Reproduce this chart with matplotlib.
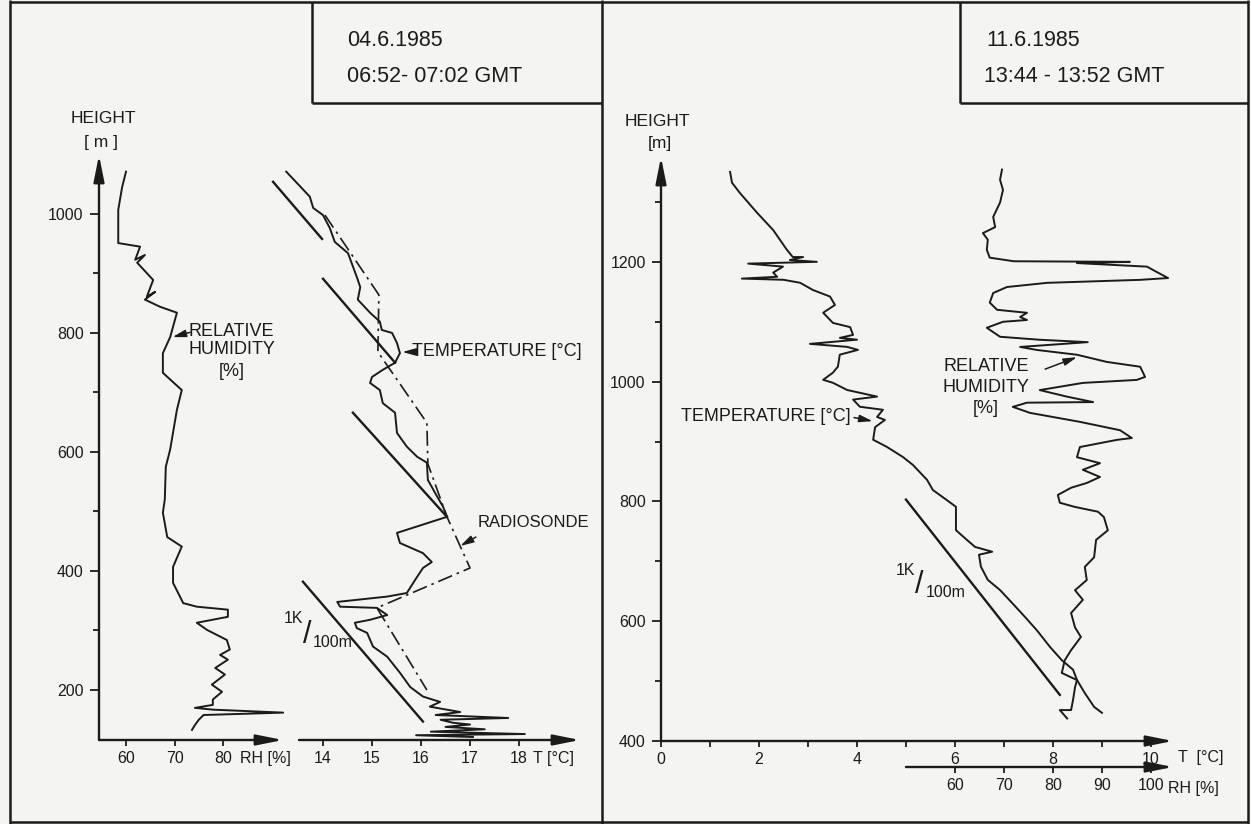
import matplotlib.pyplot as plt

plt.rcParams['font.family'] = ['Liberation Sans Narrow', 'Liberation Sans', 'DejaVu Sans']

INK = '#1b1b1b'
PAPER = '#f4f4f2'
W, H = 1251, 824

# ---------------- 04.6.1985, 06:52-07:02 GMT ----------------
# relative humidity profile (height m, RH %)
left_rh_height = [1071, 1045, 1007, 951, 945, 923, 931, 918, 889, 861, 869, 856, 844, 834,
                  793, 766, 733, 704, 671, 604, 575, 520, 498, 457, 441, 407, 380, 346, 340,
                  335, 323, 313, 301, 284, 268, 259, 251, 237, 226, 209, 197, 184, 175, 170,
                  167, 162, 158, 150, 141, 133]
left_rh = [60.0, 59.2, 58.4, 58.4, 62.9, 61.9, 63.9, 62.3, 65.6, 64.3, 66.0, 63.9, 67.0, 70.5,
           69.1, 67.6, 67.6, 71.5, 70.5, 69.1, 68.2, 68.0, 67.6, 68.5, 71.5, 69.7, 69.7, 71.8, 74.6,
           81.0, 81.0, 74.6, 76.7, 80.8, 81.4, 79.4, 81.0, 78.4, 80.4, 77.7, 79.8, 77.9, 77.9, 74.2,
           77.9, 92.4, 76.0, 75.0, 74.2, 73.6]

# temperature profile (height m, T degC)
left_t_height = [1071, 1029, 1010, 998, 976, 953, 934, 894, 877, 856, 834, 819, 805, 800, 783,
                 766, 750, 738, 726, 716, 704, 682, 666, 632, 609, 592, 582, 553, 525, 508, 491,
                 464, 447, 430, 415, 405, 385, 363, 357, 348, 340, 338, 326, 318, 313, 304, 296,
                 273, 256, 229, 205, 189, 180, 172, 163, 158, 153, 150, 145, 142, 138, 134, 130,
                 126, 124, 121]
left_t = [13.25, 13.73, 13.80, 14.0, 14.14, 14.24, 14.51, 14.69, 14.76, 14.71, 14.96, 15.16, 15.2,
          15.41, 15.51, 15.57, 15.47, 15.22, 15.0, 14.96, 15.16, 15.22, 15.47, 15.51, 15.71, 15.92,
          16.12, 16.14, 16.33, 16.45, 16.53, 15.51, 15.57, 16.04, 16.22, 16.04, 15.88, 15.71, 15.31,
          14.29, 14.35, 15.1, 15.31, 14.96, 14.65, 14.69, 14.9, 15.02, 15.31, 15.57, 15.78, 16.04,
          16.39, 16.18, 16.8, 16.3, 17.78, 16.4, 16.65, 17.0, 16.5, 17.3, 16.2, 18.12, 15.9, 17.06]

# radiosonde ascent
sonde_height = [998, 864, 768, 649, 580, 491, 405, 338, 200]
sonde_t = [14.04, 15.14, 15.12, 16.12, 16.14, 16.53, 17.0, 15.1, 16.12]

# 1 K / 100 m guide lines: (height start, T start, height end, T end)
left_guides = [(1054, 12.98, 958, 13.98),
               (891, 14.0, 750, 15.47),
               (666, 14.61, 491, 16.53),
               (382, 13.59, 147, 16.04)]

# ---------------- 11.6.1985, 13:44-13:52 GMT ----------------
right_t_height = [1350, 1332, 1315, 1282, 1253, 1220, 1208, 1208, 1203, 1200, 1197, 1192, 1182,
                  1175, 1172, 1170, 1165, 1153, 1142, 1128, 1115, 1098, 1091, 1078, 1073, 1070,
                  1063, 1058, 1053, 1045, 1025, 1015, 1003, 998, 986, 975, 970, 958, 953, 941,
                  936, 924, 903, 891, 874, 861, 836, 819, 803, 791, 752, 736, 724, 716, 711, 691,
                  669, 652, 631, 607, 585, 557, 535, 519, 502, 480, 457, 447]
right_t = [1.41, 1.45, 1.61, 1.96, 2.29, 2.57, 2.69, 2.9, 2.63, 3.18, 1.78, 2.49, 2.29,
           2.37, 1.65, 2.5, 2.84, 3.1, 3.45, 3.55, 3.31, 3.51, 3.86, 3.92, 3.65, 4.0,
           3.04, 3.8, 4.02, 3.65, 3.61, 3.51, 3.31, 3.51, 3.8, 4.41, 3.92, 4.06, 4.53, 4.41,
           4.57, 4.37, 4.33, 4.61, 4.94, 5.14, 5.43, 5.55, 5.82, 6.02, 6.02, 6.24, 6.41, 6.76, 6.49, 6.53,
           6.67, 6.92, 7.16, 7.43, 7.67, 7.94, 8.18, 8.41, 8.49, 8.65, 8.84, 9.0]

right_rh_height = [1354, 1337, 1320, 1299, 1275, 1258, 1248, 1237, 1220, 1207, 1201, 1200, 1198,
                   1192, 1183, 1173, 1170, 1165, 1158, 1148, 1132, 1120, 1115, 1108, 1103, 1100,
                   1090, 1075, 1070, 1066, 1058, 1053, 1045, 1033, 1025, 1008, 1003, 998, 986, 975,
                   966, 965, 958, 948, 933, 919, 906, 903, 891, 874, 864, 853, 841, 831, 823, 811,
                   798, 791, 783, 774, 752, 736, 707, 691, 669, 652, 636, 614, 590, 574, 552, 535,
                   514, 502, 490, 469, 452, 452, 438]
right_rh = [69.6, 69.2, 69.8, 69.2, 67.8, 68.2, 65.7, 66.7, 66.5, 67.1, 72.0, 95.7, 84.9,
            99.2, 101.2, 103.5, 97.8, 78.8, 70.6, 67.8, 67.1, 68.6, 74.7, 73.3, 74.7, 69.8,
            66.5, 69.2, 77.3, 87.1, 73.3, 76.7, 84.9, 91.0, 97.8, 98.8, 97.1, 86.1, 77.3, 82.9,
            88.2, 74.7, 71.8, 75.3, 85.5, 93.7, 96.1, 93.1, 85.5, 84.9, 89.6, 86.1, 89.6, 86.9, 83.7, 81.0,
            81.4, 84.5, 89.2, 90.4, 91.2, 88.8, 88.4, 86.5, 86.9, 84.5, 86.1, 83.7, 84.5, 85.7, 83.7, 82.4,
            81.8, 84.9, 84.5, 84.1, 83.7, 81.4, 82.9]

right_guides = [(803, 5.0, 477, 8.14)]

TICK_FS = 11.5
LABEL_FS = 13

fig = plt.figure(figsize=(W / 100, H / 100), dpi=100, facecolor=PAPER)

# frame and the two date boxes
bg = fig.add_axes([0, 0, 1, 1])
bg.set_xlim(0, W)
bg.set_ylim(H, 0)
bg.axis('off')
frame = [((10, 10), (0, 824)), ((10, 1248), (2, 2)), ((1248, 1248), (0, 824)),
         ((10, 1248), (822, 822)), ((602, 602), (0, 824)),
         ((312, 312), (2, 103)), ((312, 602), (103, 103)),
         ((960, 960), (2, 103)), ((960, 1248), (103, 103))]
for xs, ys in frame:
    bg.plot(xs, ys, color=INK, lw=1.8, solid_capstyle='butt')

bg.text(347, 40, '04.6.1985', fontsize=15.5, color=INK, va='center')
bg.text(347, 76, '06:52- 07:02 GMT', fontsize=15.5, color=INK, va='center')
bg.text(986, 40, '11.6.1985', fontsize=15.5, color=INK, va='center')
bg.text(984, 76, '13:44 - 13:52 GMT', fontsize=15.5, color=INK, va='center')
bg.text(103, 118, 'HEIGHT', fontsize=12.5, color=INK, ha='center', va='center')
bg.text(101, 142, '[ m ]', fontsize=12.5, color=INK, ha='center', va='center')
bg.text(657, 121, 'HEIGHT', fontsize=12.5, color=INK, ha='center', va='center')
bg.text(660, 143, '[m]', fontsize=12.5, color=INK, ha='center', va='center')


def px_axes(x0, x1, y0, y1):
    ax = fig.add_axes([x0 / W, 1 - y1 / H, (x1 - x0) / W, (y1 - y0) / H])
    ax.patch.set_alpha(0)
    for s in ax.spines.values():
        s.set_visible(False)
    ax.tick_params(which='both', colors=INK, width=1.3, labelsize=TICK_FS)
    ax.tick_params(axis='y', which='major', length=6.5, pad=4.5)
    ax.tick_params(axis='y', which='minor', length=4)
    ax.tick_params(axis='x', which='both', length=4, pad=4)
    return ax


def axis_arrow(ax, p0, p1, trans):
    ax.annotate('', xy=p1, xytext=p0, xycoords=trans, textcoords=trans,
                annotation_clip=False,
                arrowprops=dict(arrowstyle='-|>,head_length=1.6,head_width=0.32',
                                mutation_scale=10, color=INK, lw=1.7,
                                shrinkA=0, shrinkB=0))


def pointer(ax, p0, p1):
    ax.annotate('', xy=p1, xytext=p0, annotation_clip=False,
                arrowprops=dict(arrowstyle='-|>,head_length=0.8,head_width=0.22',
                                mutation_scale=10, color=INK, lw=1.1,
                                shrinkA=0, shrinkB=0))


line_kw = dict(color=INK, lw=1.4, clip_on=False)
sonde_kw = dict(color=INK, lw=1.2, ls=(0, (9, 3, 1.5, 3)), clip_on=False)

# ---- left panel ----
ax_rh = px_axes(99, 283, 155, 740)
ax_rh.set_xlim(54.43, 92.37)
ax_rh.set_ylim(116, 1099)
ax_rh.set_yticks(range(200, 1001, 200))
ax_rh.set_yticks(range(300, 1000, 200), minor=True)
ax_rh.set_xticks([60, 70, 80])
ax_rh.plot(left_rh, left_rh_height, **line_kw)
axis_arrow(ax_rh, (0, 0), (0, 1), ax_rh.transAxes)
axis_arrow(ax_rh, (0, 0), (1, 0), ax_rh.transAxes)
ax_rh.text(83.6, -0.031, 'RH [%]', transform=ax_rh.get_xaxis_transform(),
           fontsize=TICK_FS, color=INK, va='center')
for txt, h in [('RELATIVE', 802), ('HUMIDITY', 772), ('[%]', 735)]:
    ax_rh.text(81.8, h, txt, fontsize=LABEL_FS, color=INK, ha='center', va='center')
pointer(ax_rh, (73.2, 801), (69.6, 793))

ax_tl = px_axes(260, 580, 155, 740)
ax_tl.set_xlim(12.714, 19.245)
ax_tl.set_ylim(116, 1099)
ax_tl.set_yticks([])
ax_tl.set_xticks(range(14, 19))
ax_tl.plot(left_t, left_t_height, **line_kw)
ax_tl.plot(sonde_t, sonde_height, **sonde_kw)
for h0, t0, h1, t1 in left_guides:
    ax_tl.plot([t0, t1], [h0, h1], color=INK, lw=1.7, clip_on=False)
axis_arrow(ax_tl, (13.51, 0), (19.245, 0), ax_tl.get_xaxis_transform())
ax_tl.text(18.29, -0.031, 'T [°C]', transform=ax_tl.get_xaxis_transform(),
           fontsize=TICK_FS, color=INK, va='center')
ax_tl.text(15.82, 768, 'TEMPERATURE [°C]', fontsize=LABEL_FS, color=INK, va='center')
pointer(ax_tl, (15.82, 768), (15.62, 768))
ax_tl.text(17.16, 481, 'RADIOSONDE', fontsize=12, color=INK, va='center')
pointer(ax_tl, (17.12, 457), (16.8, 442))
ax_tl.text(13.20, 320, '1K', fontsize=TICK_FS, color=INK, va='center')
ax_tl.text(13.68, 292, '/', fontsize=22, color=INK, ha='center', va='center')
ax_tl.text(13.80, 280, '100m', fontsize=TICK_FS, color=INK, va='center')

# ---- right panel ----
ax_tr = px_axes(661, 1173, 157, 741)
ax_tr.set_xlim(0, 10.45)
ax_tr.set_ylim(400, 1375)
ax_tr.set_yticks(range(400, 1201, 200))
ax_tr.set_yticks(range(500, 1400, 200), minor=True)
ax_tr.set_xticks(range(0, 11, 2))
ax_tr.set_xticks(range(1, 10, 2), minor=True)
ax_tr.plot(right_t, right_t_height, **line_kw)
for h0, t0, h1, t1 in right_guides:
    ax_tr.plot([t0, t1], [h0, h1], color=INK, lw=1.7, clip_on=False)
axis_arrow(ax_tr, (0, 0), (0, 1), ax_tr.transAxes)
axis_arrow(ax_tr, (0, 0), (1, 0), ax_tr.transAxes)
ax_tr.text(10.55, -0.029, 'T  [°C]', transform=ax_tr.get_xaxis_transform(),
           fontsize=TICK_FS, color=INK, va='center')
ax_tr.text(3.88, 941, 'TEMPERATURE [°C]', fontsize=LABEL_FS, color=INK, ha='right', va='center')
pointer(ax_tr, (3.94, 940), (4.32, 934))
ax_tr.text(4.80, 685, '1K', fontsize=TICK_FS, color=INK, va='center')
ax_tr.text(5.27, 660, '/', fontsize=22, color=INK, ha='center', va='center')
ax_tr.text(5.40, 648, '100m', fontsize=TICK_FS, color=INK, va='center')

ax_rhr = px_axes(661, 1173, 157, 767)
ax_rhr.set_xlim(0, 104.5)
ax_rhr.set_ylim(357, 1375)
ax_rhr.set_yticks([])
ax_rhr.set_xticks(range(60, 101, 10))
ax_rhr.plot(right_rh, right_rh_height, **line_kw)
axis_arrow(ax_rhr, (50, 0), (104.5, 0), ax_rhr.get_xaxis_transform())
ax_rhr.text(103.5, -0.036, 'RH [%]', transform=ax_rhr.get_xaxis_transform(),
            fontsize=TICK_FS, color=INK, va='center')
for txt, h in [('RELATIVE', 1025), ('HUMIDITY', 991), ('[%]', 956)]:
    ax_rhr.text(66.3, h, txt, fontsize=LABEL_FS, color=INK, ha='center', va='center')
pointer(ax_rhr, (78.4, 1021), (84.9, 1041))

fig.savefig('out.png', dpi=100, facecolor=PAPER)
